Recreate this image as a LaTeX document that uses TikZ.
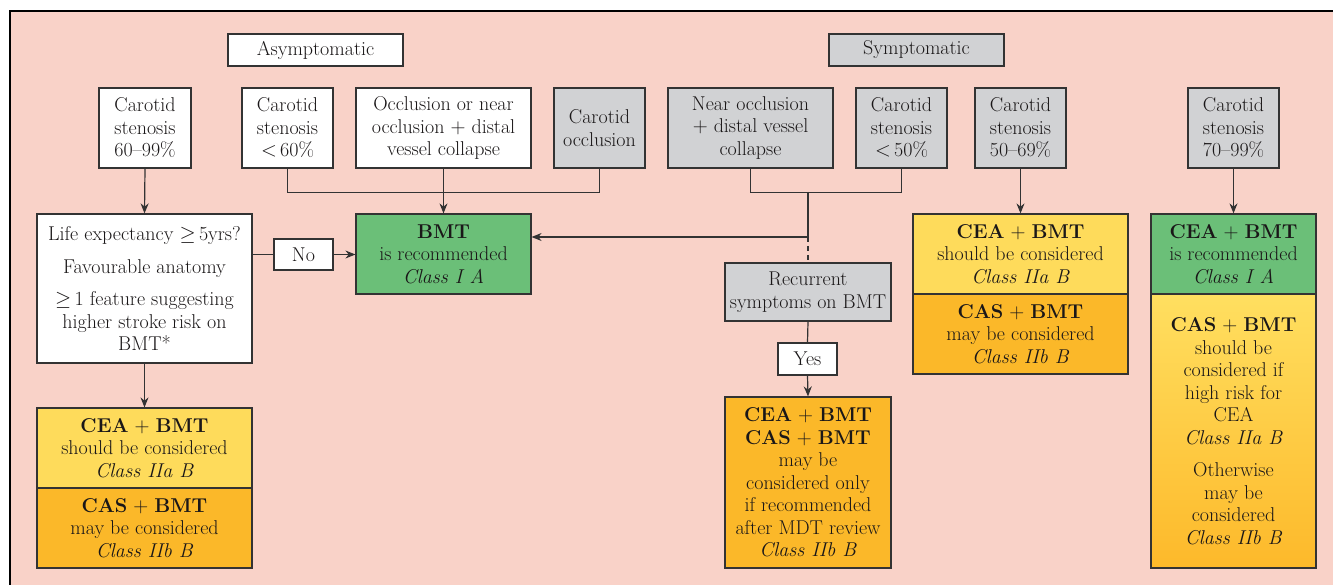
\documentclass[tikz,border=0pt]{standalone}
\usetikzlibrary{arrows.meta}
\definecolor{bgpink}{HTML}{F9D2C8}
\definecolor{boxgray}{HTML}{D1D2D4}
\definecolor{boxgreen}{HTML}{6BBF78}
\definecolor{boxyellow}{HTML}{FEDB5B}
\definecolor{boxorange}{HTML}{FBB829}
\definecolor{gradtop}{HTML}{FFDF60}
\definecolor{gradbot}{HTML}{FDB92A}
\definecolor{linegray}{HTML}{333333}
\definecolor{textdark}{HTML}{1A1718}
\tikzset{
  box/.style={draw=linegray, line width=1.2pt, inner sep=0pt, align=center,
    font=\fontsize{20}{22.5}\selectfont, text=textdark},
  conn/.style={draw=linegray, line width=1.2pt},
  arr/.style={conn, -{Stealth[length=10pt,width=8pt]}},
  wbox/.style={fill=white},
  gbox/.style={fill=boxgray},
  grbox/.style={fill=boxgreen},
  ybox/.style={fill=boxyellow},
  obox/.style={fill=boxorange},
  gradbox/.style={top color=gradtop, bottom color=gradbot},
}
\newcommand{\mkbox}[7]{\node[box,#6,minimum width={(#4-#2)*1pt},minimum height={(#5-#3)*1pt}] (#1) at ({(#2+#4)/2},{(#3+#5)/2}) {#7};}
\begin{document}
\begin{tikzpicture}[x=1pt,y=-1pt]
\useasboundingbox (0,0) rectangle (1333,585);
\clip (0,0) rectangle (1333,585);
\fill[white] (0,0) rectangle (1333,585);
\fill[bgpink] (10,11) rectangle (1345,600);
\draw[black, line width=1.2pt] (10,600) -- (10,11) -- (1345,11);

% headers
\mkbox{asym}{228}{34}{403}{66}{wbox}{Asymptomatic}
\mkbox{symp}{829}{34}{1004}{66}{gbox}{Symptomatic}

% top row
\mkbox{s6099}{99}{88}{191}{168}{wbox}{Carotid\\stenosis\\60--99\%}
\mkbox{s60}{242}{88}{333}{168}{wbox}{Carotid\\stenosis\\$<$\,60\%}
\mkbox{occl}{356}{88}{531}{168}{wbox}{Occlusion or near\\occlusion $+$ distal\\vessel collapse}
\mkbox{cocc}{554}{88}{645}{168}{gbox}{Carotid\\occlusion}
\mkbox{nocc}{668}{88}{833}{168}{gbox}{Near occlusion\\$+$ distal vessel\\collapse}
\mkbox{s50}{856}{88}{947}{168}{gbox}{Carotid\\stenosis\\$<$\,50\%}
\mkbox{s5069}{975}{88}{1066}{168}{gbox}{Carotid\\stenosis\\50--69\%}
\mkbox{s7099}{1188}{88}{1279}{168}{gbox}{Carotid\\stenosis\\70--99\%}

% middle
\mkbox{life}{37}{214}{252}{363}{wbox}{Life expectancy $\geq$\,5yrs?\\[10pt]Favourable anatomy\\[10pt]$\geq$\,1 feature suggesting\\higher stroke risk on\\BMT*}
\mkbox{no}{274}{239}{333}{270}{wbox}{No}
\mkbox{bmt}{356}{214}{531}{294}{grbox}{\textbf{BMT}\\is recommended\\\textit{Class I A}}
\mkbox{rec}{725}{263}{891}{321}{gbox}{Recurrent\\symptoms on BMT}
\mkbox{yes}{778}{343}{837}{375}{wbox}{Yes}

% recommendations
\mkbox{cea1}{37}{408}{252}{488}{ybox}{\textbf{CEA} $+$ \textbf{BMT}\\should be considered\\\textit{Class IIa B}}
\mkbox{cas1}{37}{488}{252}{568}{obox}{\textbf{CAS} $+$ \textbf{BMT}\\may be considered\\\textit{Class IIb B}}
\mkbox{fin}{725}{397}{891}{568}{obox}{\textbf{CEA} $+$ \textbf{BMT}\\\textbf{CAS} $+$ \textbf{BMT}\\may be\\considered only\\if recommended\\after MDT review\\\textit{Class IIb B}}
\mkbox{cea2}{913}{214}{1128}{294}{ybox}{\textbf{CEA} $+$ \textbf{BMT}\\should be considered\\\textit{Class IIa B}}
\mkbox{cas2}{913}{294}{1128}{374}{obox}{\textbf{CAS} $+$ \textbf{BMT}\\may be considered\\\textit{Class IIb B}}
\mkbox{cea3}{1151}{214}{1316}{294}{grbox}{\textbf{CEA} $+$ \textbf{BMT}\\is recommended\\\textit{Class I A}}
\mkbox{cas3}{1151}{294}{1316}{568}{gradbox}{\textbf{CAS} $+$ \textbf{BMT}\\should be\\considered if\\high risk for\\CEA\\\textit{Class IIa B}\\[10pt]Otherwise\\may be\\considered\\\textit{Class IIb B}}

% connectors
\draw[arr] (s6099.south) -- (life.north);
\draw[conn] (s60.south) -- ++(0,24) -| (cocc.south);
\draw[arr] (occl.south) -- (bmt.north);
\draw[conn] (life.east |- no.west) -- (no.west);
\draw[arr] (no.east) -- (no.east -| bmt.west);
\draw[arr] (life.south) -- (cea1.north);

\coordinate (j1) at (808,192);
\coordinate (j2) at (808,237);
\draw[conn] (nocc.south) -- ++(0,24) -| (s50.south);
\draw[conn] (j1) -- (j2);
\draw[arr] (j2) -- (j2 -| bmt.east);
\draw[conn, dash pattern=on 5pt off 4pt] (j2) -- (rec.north);
\draw[conn] (rec.south) -- (yes.north);
\draw[arr] (yes.south) -- (fin.north);

\draw[arr] (s5069.south) -- (cea2.north);
\draw[arr] (s7099.south) -- (cea3.north);
\end{tikzpicture}
\end{document}
